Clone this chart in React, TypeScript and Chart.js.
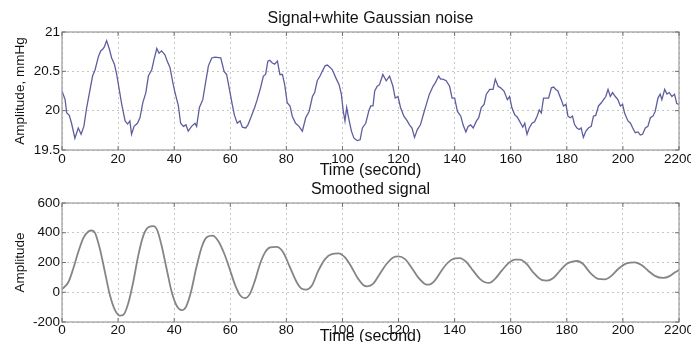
import React, { useEffect, useRef } from 'react';
import { Chart, registerables } from 'chart.js';

Chart.register(...registerables);

// ---- Data ----
// Upper plot: noisy signal (time in seconds, amplitude in mmHg)
const topTime = [
  0, 1.1, 1.7, 2.6, 3.4, 4.6, 5.8, 6.8, 7.8, 8.8,
  9.7, 10.9, 11.8, 13.0, 13.8, 14.5, 15.1, 15.9, 16.9, 17.7,
  18.7, 19.5, 20.4, 21.3, 22.5, 23.4, 24.2, 24.8, 25.7, 26.9,
  27.8, 28.8, 29.9, 30.8, 32.0, 32.8, 33.8, 34.6, 35.5, 36.7,
  37.5, 38.5, 39.5, 40.3, 41.5, 42.3, 43.3, 44.2, 45.0, 46.2,
  47.4, 48.0, 49.0, 50.2, 51.3, 52.2, 53.4, 54.5, 56.6, 57.8,
  58.7, 59.5, 60.7, 61.5, 62.5, 63.5, 64.3, 65.5, 66.3, 67.3,
  68.7, 69.6, 70.8, 71.8, 72.6, 73.4, 74.1, 74.9, 75.8, 76.8,
  77.7, 78.6, 79.4, 80.3, 81.3, 82.1, 83.3, 84.5, 85.7, 86.9,
  88.1, 89.3, 90.1, 91.0, 92.0, 92.8, 93.8, 94.6, 95.6, 96.4,
  97.6, 98.8, 99.6, 100.3, 100.9, 101.5, 102.3, 103.2, 104.1, 105.3,
  106.3, 107.1, 108.3, 109.5, 110.1, 110.9, 111.5, 112.4, 113.2, 114.4,
  115.6, 116.8, 118.0, 118.8, 119.8, 120.7, 121.9, 123.1, 123.9, 124.8,
  125.7, 126.7, 127.8, 129.0, 129.9, 131.0, 132.3, 133.2, 134.3, 135.0,
  135.8, 137.0, 138.2, 139.1, 140.0, 141.0, 142.2, 143.0, 144.0, 144.8,
  145.7, 146.6, 147.8, 148.6, 149.5, 150.5, 151.3, 152.5, 153.7, 154.5,
  155.5, 156.4, 157.6, 158.8, 159.6, 160.4, 161.4, 162.3, 163.1, 164.3,
  165.0, 165.8, 166.6, 167.6, 168.5, 169.4, 170.2, 170.9, 171.7, 173.5,
  174.5, 175.3, 176.1, 176.8, 178.0, 178.8, 179.7, 180.4, 181.2, 182.0,
  182.8, 183.6, 184.4, 185.1, 185.9, 186.8, 187.7, 188.7, 189.5, 190.3,
  191.3, 192.3, 193.1, 193.9, 194.7, 195.5, 196.3, 197.3, 198.2, 199.1,
  199.9, 200.6, 201.8, 202.7, 203.5, 204.4, 205.4, 206.2, 207.0, 208.0,
  208.9, 209.8, 210.7, 211.5, 212.5, 213.3, 213.9, 214.9, 215.7, 216.5,
  217.5, 218.4, 219.2, 220.0,
];
const topSignal = [
  20.25, 20.14, 19.97, 19.94, 19.84, 19.65, 19.78, 19.70, 19.80, 20.04,
  20.21, 20.44, 20.52, 20.69, 20.76, 20.78, 20.81, 20.89, 20.78, 20.67,
  20.59, 20.46, 20.27, 20.08, 19.87, 19.83, 19.87, 19.70, 19.80, 19.84,
  19.91, 20.10, 20.23, 20.44, 20.52, 20.65, 20.79, 20.73, 20.76, 20.71,
  20.63, 20.55, 20.36, 20.23, 20.06, 19.84, 19.80, 19.82, 19.74, 19.80,
  19.84, 19.80, 20.04, 20.14, 20.38, 20.57, 20.67, 20.68, 20.67, 20.50,
  20.46, 20.31, 20.08, 19.94, 19.84, 19.87, 19.79, 19.78, 19.82, 19.91,
  20.04, 20.14, 20.29, 20.44, 20.46, 20.63, 20.64, 20.61, 20.59, 20.63,
  20.46, 20.46, 20.33, 20.10, 20.06, 19.93, 19.84, 19.80, 19.74, 19.91,
  19.99, 20.18, 20.23, 20.38, 20.44, 20.50, 20.57, 20.58, 20.55, 20.52,
  20.42, 20.33, 20.21, 19.99, 19.87, 20.04, 19.89, 19.74, 19.65, 19.62,
  19.63, 19.78, 19.84, 20.01, 20.06, 20.06, 20.25, 20.31, 20.33, 20.46,
  20.38, 20.44, 20.31, 20.16, 20.18, 20.04, 19.93, 19.87, 19.82, 19.78,
  19.66, 19.76, 19.82, 19.97, 20.08, 20.21, 20.31, 20.36, 20.44, 20.40,
  20.40, 20.38, 20.31, 20.16, 20.16, 19.99, 19.93, 19.82, 19.73, 19.80,
  19.82, 19.78, 19.87, 19.91, 20.04, 20.08, 20.21, 20.27, 20.27, 20.40,
  20.31, 20.29, 20.25, 20.14, 20.18, 20.04, 19.95, 19.92, 19.87, 19.79,
  19.84, 19.70, 19.78, 19.84, 19.86, 19.93, 20.01, 19.97, 20.16, 20.16,
  20.29, 20.30, 20.27, 20.25, 20.14, 20.06, 20.08, 19.93, 19.91, 19.93,
  19.82, 19.78, 19.76, 19.78, 19.66, 19.74, 19.78, 19.80, 19.93, 19.94,
  20.06, 20.10, 20.14, 20.18, 20.27, 20.18, 20.23, 20.18, 20.14, 20.06,
  20.08, 19.97, 19.87, 19.84, 19.78, 19.72, 19.73, 19.69, 19.70, 19.78,
  19.80, 19.91, 19.93, 19.99, 20.16, 20.21, 20.14, 20.27, 20.21, 20.23,
  20.18, 20.21, 20.09, 20.08,
];

// Lower plot: smoothed signal
const smoothTime = [
  0, 2.3, 4.0, 5.8, 7.6, 9.4, 10.6, 11.8, 13.5, 15.3,
  17.1, 18.9, 20.7, 21.9, 23.6, 25.4, 27.2, 29.0, 30.8, 32.6,
  34.0, 35.5, 37.3, 39.1, 40.9, 42.7, 44.2, 46.0, 47.8, 49.8,
  51.6, 53.7, 55.7, 57.8, 59.9, 61.7, 63.5, 65.2, 67.0, 68.8,
  70.6, 72.4, 74.2, 76.5, 78.9, 81.3, 83.7, 85.5, 87.0, 89.1,
  91.4, 93.8, 96.2, 98.5, 100.9, 103.3, 105.6, 107.4, 108.8, 110.9,
  113.3, 115.7, 118.1, 119.9, 122.3, 124.6, 127.0, 129.4, 130.8, 132.9,
  135.3, 137.7, 140.0, 141.9, 144.3, 146.6, 149.0, 150.8, 152.3, 154.4,
  156.8, 159.1, 161.5, 163.3, 165.7, 168.0, 171.0, 173.0, 175.2, 177.6,
  179.9, 182.3, 183.7, 185.8, 188.2, 191.2, 193.6, 196.0, 198.3, 201.3,
  204.3, 206.6, 209.0, 211.4, 214.4, 216.8, 218.6, 220.0,
];
const smoothSignal = [
  20, 69, 158, 270, 364, 408, 415, 397, 292, 136,
  -20, -120, -157, -152, -76, 69, 248, 381, 437, 444,
  415, 314, 158, 3, -91, -120, -98, 3, 158, 303,
  370, 381, 345, 262, 150, 50, -20, -40, -11, 78,
  190, 268, 301, 305, 268, 167, 67, 23, 18, 45,
  145, 223, 257, 261, 234, 167, 90, 49, 40, 56,
  123, 190, 234, 241, 223, 167, 100, 56, 51, 78,
  145, 201, 227, 230, 201, 145, 90, 67, 63, 90,
  145, 194, 219, 219, 190, 134, 83, 78, 96, 145,
  190, 207, 210, 190, 134, 90, 87, 112, 156, 194,
  201, 183, 145, 110, 96, 110, 134, 150,
];

const xTickLabels = ['0', '20', '40', '60', '80', '100', '120', '140', '160', '180', '200', '2200'];
const topYTickLabels = ['19.5', '20', '20.5', '21'];
const bottomYTickLabels = ['-200', '0', '200', '400', '600'];

const FONT = "'Liberation Sans', Arial, Helvetica, sans-serif";
const TEXT = '#111111';

const framePlugin = {
  id: 'matlabFrame',
  afterDatasetsDraw(chart: any) {
    const { ctx, chartArea } = chart;
    const { left, right, top, bottom } = chartArea;
    const xs = chart.scales.x;
    const ys = chart.scales.y;
    ctx.save();
    ctx.strokeStyle = '#9c9c9c';
    ctx.lineWidth = 1.2;
    ctx.strokeRect(left, top, right - left, bottom - top);
    ctx.strokeStyle = '#707070';
    ctx.lineWidth = 1;
    ctx.beginPath();
    const tl = 4;
    xs.ticks.forEach((_t: any, i: number) => {
      const px = xs.getPixelForTick(i);
      ctx.moveTo(px, bottom);
      ctx.lineTo(px, bottom - tl);
      ctx.moveTo(px, top);
      ctx.lineTo(px, top + tl);
    });
    ys.ticks.forEach((_t: any, i: number) => {
      const py = ys.getPixelForTick(i);
      ctx.moveTo(left, py);
      ctx.lineTo(left + tl, py);
      ctx.moveTo(right, py);
      ctx.lineTo(right - tl, py);
    });
    ctx.stroke();
    ctx.restore();
  },
};

interface PanelOpts {
  times: number[];
  values: number[];
  yMin: number;
  yMax: number;
  yStep: number;
  yLabels: string[];
  yTitle: string;
  title: string;
  titlePad: { top: number; bottom: number };
  xTitlePadBottom: number;
  xTickPad: number;
  color: string;
  width: number;
  smooth: boolean;
}

function makeChart(canvas: HTMLCanvasElement, o: PanelOpts) {
  return new Chart(canvas, {
    type: 'line',
    data: {
      datasets: [
        {
          data: o.times.map((t, i) => ({ x: t, y: o.values[i] })),
          borderColor: o.color,
          borderWidth: o.width,
          pointRadius: 0,
          fill: false,
          tension: o.smooth ? 0.4 : 0,
          cubicInterpolationMode: o.smooth ? 'monotone' : 'default',
        },
      ],
    },
    options: {
      responsive: false,
      animation: false,
      devicePixelRatio: 1,
      layout: { padding: { left: 0, right: 12, top: 0, bottom: 0 } },
      plugins: {
        legend: { display: false },
        tooltip: { enabled: false },
        title: {
          display: true,
          text: o.title,
          fullSize: false,
          color: TEXT,
          font: { family: FONT, size: 16, weight: 'normal' },
          padding: o.titlePad,
        },
      },
      scales: {
        x: {
          type: 'linear',
          min: 0,
          max: 220,
          afterFit: (s: any) => {
            s.height = 30;
            s.paddingLeft = 0;
            s.paddingRight = 0;
          },
          ticks: {
            stepSize: 20,
            autoSkip: false,
            maxRotation: 0,
            padding: o.xTickPad,
            color: TEXT,
            font: { family: FONT, size: 13.5 },
            callback: (_v: any, i: number) => xTickLabels[i],
          },
          grid: { color: '#c6c6c6', lineWidth: 1, drawTicks: false },
          border: { display: false, dash: [2, 3] },
          title: {
            display: true,
            text: 'Time (second)',
            color: TEXT,
            font: { family: FONT, size: 16 },
            padding: { top: 0, bottom: o.xTitlePadBottom },
          },
        },
        y: {
          type: 'linear',
          min: o.yMin,
          max: o.yMax,
          afterFit: (s: any) => {
            s.width = 62;
            s.paddingTop = 0;
            s.paddingBottom = 0;
          },
          ticks: {
            stepSize: o.yStep,
            autoSkip: false,
            padding: 2,
            color: TEXT,
            font: { family: FONT, size: 13.5 },
            callback: (_v: any, i: number) => o.yLabels[i],
          },
          grid: { color: '#c6c6c6', lineWidth: 1, drawTicks: false },
          border: { display: false, dash: [2, 3] },
          title: {
            display: true,
            text: o.yTitle,
            color: TEXT,
            font: { family: FONT, size: 13.5 },
            padding: { top: 12.5, bottom: 0 },
          },
        },
      },
    },
    plugins: [framePlugin],
  } as any);
}

export default function App() {
  const topRef = useRef<HTMLCanvasElement>(null);
  const botRef = useRef<HTMLCanvasElement>(null);

  useEffect(() => {
    const c1 = makeChart(topRef.current!, {
      times: topTime,
      values: topSignal,
      yMin: 19.5,
      yMax: 21,
      yStep: 0.5,
      yLabels: topYTickLabels,
      yTitle: 'Amplitude, mmHg',
      title: 'Signal+white Gaussian noise',
      titlePad: { top: 9.1, bottom: 3.7 },
      xTitlePadBottom: 0,
      xTickPad: 1,
      color: '#5e5e9e',
      width: 1.3,
      smooth: false,
    });
    const c2 = makeChart(botRef.current!, {
      times: smoothTime,
      values: smoothSignal,
      yMin: -200,
      yMax: 600,
      yStep: 200,
      yLabels: bottomYTickLabels,
      yTitle: 'Amplitude',
      title: 'Smoothed signal',
      titlePad: { top: 0.2, bottom: 3.6 },
      xTitlePadBottom: 5.4,
      xTickPad: 0,
      color: '#858585',
      width: 1.8,
      smooth: true,
    });
    return () => {
      c1.destroy();
      c2.destroy();
    };
  }, []);

  return (
    <div
      style={{
        position: 'fixed',
        left: 0,
        top: 0,
        width: 691,
        height: 342,
        overflow: 'hidden',
        background: '#ffffff',
      }}
    >
      <canvas ref={topRef} width={691} height={180} style={{ position: 'absolute', left: 0, top: 0 }} />
      <canvas ref={botRef} width={691} height={172} style={{ position: 'absolute', left: 0, top: 180 }} />
    </div>
  );
}
